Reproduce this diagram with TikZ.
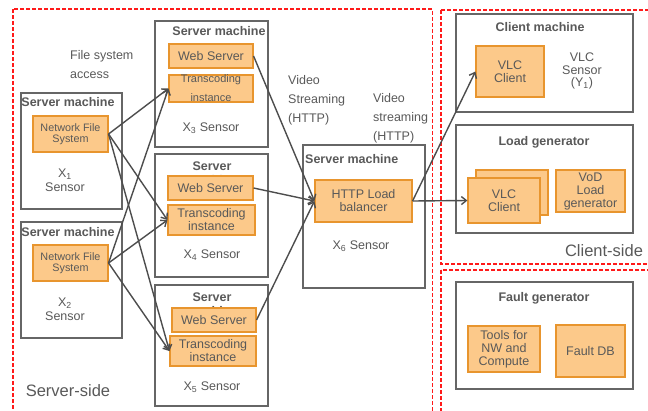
\documentclass[tikz,border=0pt]{standalone}
\usepackage{fontspec}
\setmainfont{Liberation Sans}
\usepackage{tikz}
\usetikzlibrary{arrows.meta,positioning,calc}
\definecolor{kasten}{HTML}{666666}
\definecolor{schrift}{HTML}{595959}
\definecolor{orangefill}{HTML}{FCC98A}
\definecolor{orangerand}{HTML}{E8952E}
\definecolor{pfeil}{HTML}{4D4D4D}
\definecolor{rot}{HTML}{FF1A1A}
\tikzset{
  machine/.style={draw=kasten,line width=1.3pt,fill=white,inner sep=0pt},
  komponente/.style={draw=orangerand,line width=1.1pt,fill=orangefill,inner sep=0pt,align=center,text=schrift,font=\fontsize{12.5}{13}\selectfont},
  titel/.style={text=schrift,font=\fontsize{12.5}{13}\selectfont\bfseries,align=center,inner sep=0pt},
  sensor/.style={text=schrift,font=\fontsize{12.5}{13}\selectfont,align=center,inner sep=0pt},
  bereich/.style={draw=rot,line width=1.2pt,dash pattern=on 4pt off 2pt},
  fluss/.style={draw=pfeil,line width=1.4pt,-{Straight Barb[length=5pt,width=8pt]}},
}

\begin{document}
\begin{tikzpicture}[x=1pt,y=-1pt]
\useasboundingbox (0,0) rectangle (648,410);
\clip (0,0) rectangle (648,410);
%Bereiche (rot gestrichelt)
\draw[bereich] (13,9) rectangle (432.5,420);
\draw[bereich] (441,10) rectangle (660,264);
\draw[bereich] (441,270) rectangle (660,420);
\node[sensor,font=\fontsize{16.5}{18}\selectfont] (serverside) at (68,391) {Server-side};
\node[sensor,font=\fontsize{16.5}{18}\selectfont] (clientside) at (604,251) {Client-side};

%Server mit NFS
\node[machine,minimum width=101pt,minimum height=116pt] (m1) at (71.5,151) {};
\node[machine,minimum width=101pt,minimum height=116pt] (m2) at (71.5,280) {};
\node[titel] (t1) at (68,102) {Server machine};
\node[titel] (t2) at (68,232) {Server machine};
\node[komponente,minimum width=75pt,minimum height=36pt,font=\fontsize{10.8}{11}\selectfont] (nfs1) at (70.5,134) {Network File\\System};
\node[komponente,minimum width=75pt,minimum height=36pt,font=\fontsize{10.8}{11}\selectfont] (nfs2) at (70.5,263) {Network File\\System};
\node[sensor,font=\fontsize{12.5}{14}\selectfont] (s1) at (65,180) {X\textsubscript{1}\\Sensor};
\node[sensor,font=\fontsize{12.5}{14}\selectfont] (s2) at (65,309) {X\textsubscript{2}\\Sensor};

%Server mit Web Server und Transcoding
\node[machine,minimum width=113pt,minimum height=126pt] (m3) at (211.5,84) {};
\node[machine,minimum width=113pt,minimum height=123pt] (m4) at (211.5,215.5) {};
\node[machine,minimum width=113pt,minimum height=121pt] (m5) at (211.5,345.5) {};
\node[titel] (t3) at (219,31) {Server machine};
%"machine" verschwindet hinter dem Web Server
\node[titel,anchor=north,font=\fontsize{12.5}{14.5}\selectfont\bfseries] (t4) at (212,161.5) {Server\\machine};
\node[titel,anchor=north,font=\fontsize{12.5}{14.5}\selectfont\bfseries] (t5) at (212,292.5) {Server\\machine};
\node[komponente,minimum width=84pt,minimum height=24pt] (w3) at (211,56) {Web Server};
\node[komponente,minimum width=84pt,minimum height=27pt,font=\fontsize{11}{19}\selectfont] (tr3) at (211,88.5) {Transcoding\\instance};
\node[komponente,minimum width=85pt,minimum height=24pt] (w4) at (210.5,188) {Web Server};
\node[komponente,minimum width=87pt,minimum height=30pt] (tr4) at (211.5,220) {Transcoding\\instance};
\node[komponente,minimum width=84pt,minimum height=24pt] (w5) at (214,320) {Web Server};
\node[komponente,minimum width=86pt,minimum height=30pt] (tr5) at (213,351) {Transcoding\\instance};
\node[sensor] (s3) at (211,128) {X\textsubscript{3} Sensor};
\node[sensor] (s4) at (212,255) {X\textsubscript{4} Sensor};
\node[sensor] (s5) at (212,387) {X\textsubscript{5} Sensor};

%Load balancer
\node[machine,minimum width=122pt,minimum height=143pt] (m6) at (364,216.5) {};
\node[titel,anchor=west] (t6) at (305,159) {Server machine};
\node[komponente,minimum width=97pt,minimum height=42pt] (lb) at (363.5,201) {HTTP Load\\balancer};
\node[sensor] (s6) at (361,246) {X\textsubscript{6} Sensor};

%Beschriftungen
\node[sensor,align=left,anchor=west,font=\fontsize{12.5}{19}\selectfont] (fsa) at (70,64.5) {File system\\access};
\node[sensor,align=left,anchor=west,font=\fontsize{12.5}{19}\selectfont] (vs1) at (288,100) {Video\\Streaming\\(HTTP)};
\node[sensor,align=left,anchor=west,font=\fontsize{12.5}{19}\selectfont] (vs2) at (373,118) {Video\\streaming\\(HTTP)};

%Client-Seite
\node[machine,minimum width=177pt,minimum height=98pt] (cm) at (544.5,63) {};
\node[titel] (tcm) at (540,27) {Client machine};
\node[komponente,minimum width=68pt,minimum height=51pt] (vlc1) at (510,71.5) {VLC\\Client};
\node[sensor,font=\fontsize{12.5}{12.5}\selectfont] (sy) at (582,71) {VLC\\Sensor\\(Y\textsubscript{1})};
\node[machine,minimum width=177pt,minimum height=108pt] (lg) at (544.5,179) {};
\node[titel] (tlg) at (544,142) {Load generator};
\node[komponente,minimum width=72pt,minimum height=45pt] (vlcb) at (512,192.5) {};
\node[komponente,minimum width=72pt,minimum height=45pt] (vlc2) at (504,200.5) {VLC\\Client};
\node[komponente,minimum width=69pt,minimum height=42pt] (vod) at (590.5,191) {VoD\\Load\\generator};

%Fehlergenerator
\node[machine,minimum width=177pt,minimum height=107pt] (fg) at (544.5,335.5) {};
\node[titel] (tfg) at (544,298) {Fault generator};
\node[komponente,minimum width=72pt,minimum height=46pt] (tools) at (504,349) {Tools for\\NW and\\Compute};
\node[komponente,minimum width=69pt,minimum height=52pt] (fdb) at (590.5,351) {Fault DB};

%Pfeile
\foreach \n in {nfs1,nfs2}{
  \foreach \t in {tr3,tr4,tr5}{
    \draw[fluss] (\n.east) -- (\t.west);
  }
}
\foreach \w in {w3,w4,w5}{
  \draw[fluss] (\w.east) -- (lb.west);
}
\draw[fluss] (lb.east) -- (vlc1.west);
\draw[fluss] (lb.east) -- (vlc2.west);
\end{tikzpicture}
\end{document}
